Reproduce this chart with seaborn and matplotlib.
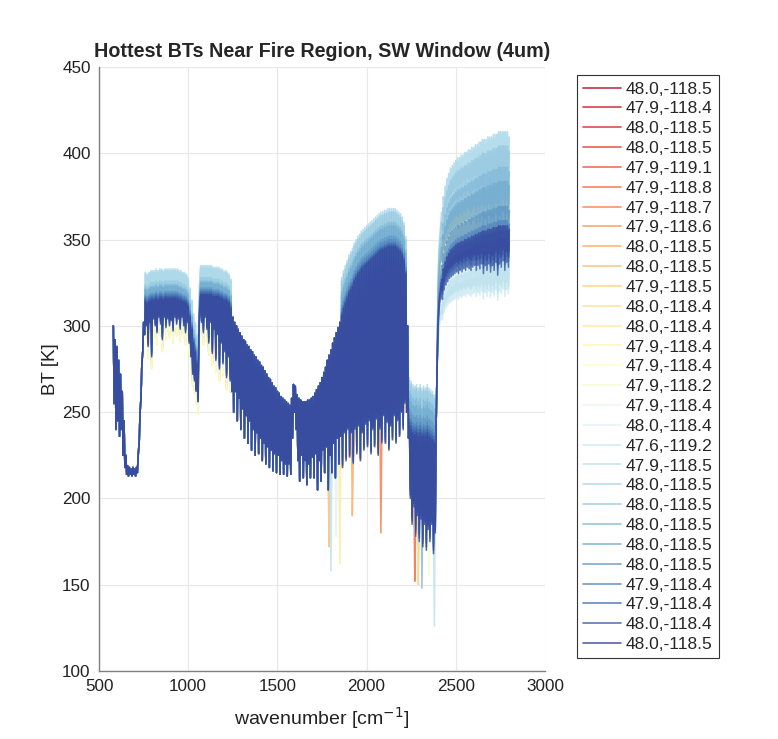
import numpy as np
import pandas as pd
import matplotlib
matplotlib.use("Agg")
import matplotlib.pyplot as plt
import seaborn as sns

# ---------------- data ----------------
locations = ["48.0,-118.5", "47.9,-118.4", "48.0,-118.5", "48.0,-118.5", "47.9,-119.1",
             "47.9,-118.8", "47.9,-118.7", "47.9,-118.6", "48.0,-118.5", "48.0,-118.5",
             "47.9,-118.5", "48.0,-118.4", "48.0,-118.4", "47.9,-118.4", "47.9,-118.4",
             "47.9,-118.2", "47.9,-118.4", "48.0,-118.4", "47.6,-119.2", "47.9,-118.5",
             "48.0,-118.5", "48.0,-118.5", "48.0,-118.5", "48.0,-118.5", "48.0,-118.5",
             "47.9,-118.4", "47.9,-118.4", "48.0,-118.4", "48.0,-118.5"]

# channel grid (cm^-1)
wavenumber = np.arange(580, 2801, 5)

# reference spectrum (darkest series), one value per channel
bt_base = [
    300, 255, 292, 240,
    288, 245, 280, 236, 272, 240, 262, 225, 245, 218, 225, 214, 219, 213, 218, 214, 217, 213, 218, 214,
    217, 213, 218, 215, 226, 232, 250, 258, 278, 285, 302, 295, 314, 300, 313, 288, 314, 302, 315, 282,
    315, 304, 315, 300, 316, 296, 315, 305, 316, 301, 316, 292, 315, 305, 316, 299, 316, 304, 316, 300,
    316, 303, 316, 297, 316, 305, 316, 301, 316, 304, 315, 298, 315, 305, 314, 300, 314, 296, 313, 302,
    311, 290, 305, 282, 298, 272, 290, 268, 285, 262, 278, 256, 295, 310, 318, 302, 318, 296, 318, 305,
    318, 298, 318, 290, 318, 302, 318, 284, 317, 298, 317, 280, 317, 295, 317, 275, 316, 290, 316, 278,
    315, 285, 315, 270, 314, 282, 313, 268, 310, 262, 305, 250, 302, 262, 300, 245, 298, 258, 296, 240,
    294, 252, 292, 235, 291, 248, 289, 232, 288, 245, 286, 228, 285, 240, 283, 225, 282, 238, 280, 226,
    279, 235, 277, 222, 276, 232, 274, 220, 272, 230, 270, 218, 269, 228, 267, 216, 265, 226, 264, 215,
    262, 225, 261, 214, 259, 222, 258, 214, 257, 220, 256, 213, 255, 220, 254, 214, 258, 235, 266, 250,
    265, 240, 260, 222, 258, 210, 257, 225, 256, 212, 256, 222, 256, 208, 257, 220, 257, 212, 258, 224,
    259, 212, 261, 226, 263, 205, 265, 222, 267, 210, 270, 228, 273, 215, 276, 230, 280, 205, 283, 225,
    286, 215, 290, 232, 293, 212, 296, 235, 299, 220, 302, 236, 306, 218, 310, 238, 313, 222, 316, 240,
    319, 224, 321, 238, 323, 220, 326, 240, 328, 226, 330, 242, 331, 222, 333, 238, 334, 228, 335, 243,
    336, 230, 337, 245, 338, 226, 339, 240, 340, 230, 341, 246, 342, 225, 343, 240, 344, 232, 344, 248,
    345, 232, 345, 244, 346, 228, 346, 242, 346, 234, 346, 248, 346, 232, 345, 245, 344, 236, 343, 250,
    341, 240, 338, 255, 330, 250, 300, 235, 242, 200, 240, 185, 238, 195, 237, 178, 238, 190, 236, 175,
    238, 188, 236, 172, 237, 185, 236, 170, 238, 182, 236, 175, 235, 185, 234, 168, 232, 180, 245, 275,
    300, 312, 318, 322, 327, 320, 333, 326, 337, 329, 340, 331, 342, 333, 344, 334, 345, 335, 346, 336,
    347, 337, 348, 336, 348, 338, 349, 337, 349, 339, 350, 338, 350, 340, 351, 339, 351, 338, 352, 340,
    352, 341, 353, 338, 353, 341, 354, 339, 354, 342, 355, 336, 355, 341, 355, 338, 356, 342, 356, 337,
    356, 341, 357, 338, 357, 343, 357, 335, 358, 342, 358, 340, 358, 344, 358, 338, 358, 343, 358, 340,
    356,
]

# per-series departures from the reference spectrum, by band
lw_shift = [0, 0, -2, 0, -3, 0, -2, -3, -5, -4, -5, -6, -7, -7, -6, -5, -3, 2,
            17, 17, 16, 10, 8, 7, 4, 3, 2, 1, 0]
h2o_shift = [0, 0, 0, 0, 0, 0, 0, 0, 0, 0, 0, 0, 0, 0, 0, 0, 0, 0,
             2, 4, 22, 20, 14, 12, 6, 4, 2, 1, 0]
co2_shift = [12, 10, 12, 10, 8, 10, 8, 6, 6, 4, 4, 2, 2, 2, 0, 0, 0, 4,
             10, 14, 28, 26, 20, 16, 10, 6, 4, 2, 0]
sw_peak = [365, 360, 370, 365, 355, 362, 368, 360, 372, 375, 370, 378, 372, 368,
           365, 360, 355, 345, 330, 335, 408, 400, 388, 380, 366, 358, 352, 348, 355]

# isolated deep channels of single series
spike_series = [6, 19, 12, 8, 17, 19, 10, 22, 5, 15, 9]
spike_wn = [2080, 1800, 1850, 1920, 1830, 2380, 2290, 2310, 2270, 2350, 1790]
spike_bt = [180, 158, 162, 190, 178, 126, 150, 148, 152, 155, 172]

BASE_SW = 355

# ---------------- build table ----------------
wn = wavenumber
base = np.array(bt_base, dtype=float)
lw_m = (wn >= 760) & (wn <= 1240)
h2o_m = (wn >= 1860) & (wn <= 2220)
co2_m = (wn >= 2240) & (wn <= 2385)
sw_m = wn >= 2400

frames = []
for i, lab in enumerate(locations):
    bt = base.copy()
    bt[lw_m] += lw_shift[i]
    bt[h2o_m] += h2o_shift[i]
    bt[co2_m] += co2_shift[i]
    bt[sw_m] = 250 + (base[sw_m] - 250) * (sw_peak[i] - 250) / (BASE_SW - 250)
    for s, w, v in zip(spike_series, spike_wn, spike_bt):
        if s == i:
            bt[wn == w] = v
    frames.append(pd.DataFrame({"wn": wn, "bt": bt, "sid": f"s{i:02d}"}))
df = pd.concat(frames, ignore_index=True)

sids = [f"s{i:02d}" for i in range(len(locations))]
cols = sns.color_palette("RdYlBu", len(locations))
palette = dict(zip(sids, cols))

# ---------------- draw ----------------
sns.set_theme(style="white")
plt.rcParams["font.family"] = ["Liberation Sans", "DejaVu Sans"]

fig = plt.figure(figsize=(7.78, 7.39), dpi=100)
ax = fig.add_axes([0.1273, 0.092, 0.5732, 0.8173])

sns.lineplot(data=df, x="wn", y="bt", hue="sid", hue_order=sids, palette=palette,
             estimator=None, sort=False, linewidth=1.1, alpha=0.85, ax=ax)

ax.set_xlim(500, 3000)
ax.set_ylim(100, 450)
ax.set_xticks([500, 1000, 1500, 2000, 2500, 3000])
ax.set_yticks([100, 150, 200, 250, 300, 350, 400, 450])
ax.grid(True, color="#e8e8e8", linewidth=0.8)
ax.set_axisbelow(True)
for sp in ["top", "right"]:
    ax.spines[sp].set_visible(False)
for sp in ["left", "bottom"]:
    ax.spines[sp].set_color("#808080")
    ax.spines[sp].set_linewidth(1.0)
ax.tick_params(direction="in", length=4, color="#808080", labelsize=12.3,
               labelcolor="#222222", pad=6)
ax.set_xlabel("wavenumber [cm$^{-1}$]", fontsize=14, color="#222222", labelpad=8)
ax.set_ylabel("BT [K]", fontsize=13.5, color="#222222", labelpad=2)
ax.set_title("Hottest BTs Near Fire Region, SW Window (4um)", fontsize=14.2,
             fontweight="bold", pad=7)

handles, _ = ax.get_legend_handles_labels()
ax.get_legend().remove()
leg = fig.legend(handles, locations, loc="upper left", bbox_to_anchor=(0.7416, 0.898),
                 bbox_transform=fig.transFigure, fontsize=12.5, frameon=True,
                 fancybox=False, edgecolor="#333333", framealpha=1,
                 handlelength=2.2, handletextpad=0.25, labelspacing=0.27,
                 borderpad=0.35, borderaxespad=0)
leg.get_frame().set_linewidth(0.8)
for h in leg.get_lines():
    h.set_linewidth(1.2)

fig.savefig("out.png", dpi=100)
